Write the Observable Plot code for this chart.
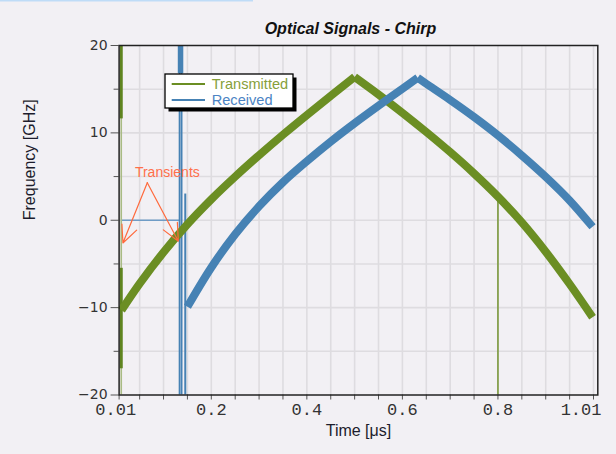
<!DOCTYPE html>
<html><head><meta charset="utf-8">
<script src="https://cdn.jsdelivr.net/npm/d3@7"></script>
<script src="https://cdn.jsdelivr.net/npm/@observablehq/plot@0.6"></script>
<style>
html,body{margin:0;padding:0;background:#f2f0f4;}
#chart{position:relative;width:616px;height:454px;overflow:hidden;}
g[aria-label="xticklabels"] text{letter-spacing:0.6px;}
g[aria-label="yticklabels"] text{letter-spacing:1.2px;}
</style></head><body><div id="chart"></div>
<script>
const title = "Optical Signals - Chirp";
const xLabel = "Time [μs]";
const yLabel = "Frequency [GHz]";
const seriesNames = ["Transmitted", "Received"];
const seriesColors = ["#6b8e23", "#4682b4"];
const legendTextColors = ["#86a03a", "#4c84c4"];

// Transmitted chirp (time µs, frequency GHz)
const txTime = [0.012,0.05,0.1,0.15,0.2,0.25,0.3,0.35,0.4,0.45,0.5,0.55,0.6,0.65,0.7,0.75,0.8,0.85,0.9,0.95,0.998];
const txFreq = [-10.3,-7.26,-3.66,-0.46,2.39,4.99,7.44,9.79,12.04,14.24,16.4,14.4,12.3,10.1,7.8,5.35,2.7,-0.25,-3.6,-7.3,-11.1];
const txPeak = 0.5;
// Received chirp
const rxTime = [0.15,0.2,0.25,0.3,0.35,0.4,0.45,0.5,0.55,0.6,0.632,0.65,0.7,0.75,0.8,0.85,0.9,0.95,0.998];
const rxFreq = [-9.9,-5.4,-1.6,1.6,4.35,6.75,9.0,11.1,13.1,15.05,16.3,15.62,13.77,11.82,9.72,7.42,4.97,2.27,-0.75];
const rxPeak = 0.632;

// Transients (vertical spikes: time, from, to)
const txSpikeThinT = [0.0115], txSpikeThinF1 = [-20], txSpikeThinF2 = [20];
const txSpikeThickT = [0.0115, 0.0115], txSpikeThickF1 = [11.6, -17], txSpikeThickF2 = [20, -5.5];
const txSpikeLateT = [0.8], txSpikeLateF1 = [-20], txSpikeLateF2 = [2.6];
const rxSpikeThinT = [0.1336, 0.1378], rxSpikeThinF1 = [-20, -20], rxSpikeThinF2 = [20, 20];
const rxSpikeThickT = [0.1356], rxSpikeThickF1 = [16.8], rxSpikeThickF2 = [20];
const rxSpikeLateT = [0.1455], rxSpikeLateF1 = [-20], rxSpikeLateF2 = [3.0];
const rxFlatT1 = [0.0115], rxFlatT2 = [0.134], rxFlatF = [0];

// Annotation
const noteText = ["Transients"];
const noteT = [0.108], noteF = [5.5];
const arrowT1 = [0.066, 0.066], arrowF1 = [4.3, 4.3];
const arrowT2 = [0.015, 0.131], arrowF2 = [-2.6, -2.4];

// Axes
const xDomain = [0.007, 1.009];
const yDomain = [-20, 20];
const xGrid = [0.05,0.1,0.15,0.2,0.25,0.3,0.35,0.4,0.45,0.5,0.55,0.6,0.65,0.7,0.75,0.8,0.85,0.9,0.95,1.0];
const yGridLines = [-15,-10,-5,0,5,10,15];
const yMajor = [-20,-10,0,10,20];
const yMinor = [-15,-5,5,15];
const xTickLabelPos = [0.0, 0.2, 0.4, 0.6, 0.8, 0.974];
const xTickLabels = ["0.01", "0.2", "0.4", "0.6", "0.8", "1.01"];
const yTickLabels = ["\u221220", "\u221210", "0", "10", "20"];

function series(time, freq, peak, name) {
  const rows = [];
  time.forEach((t, i) => { if (t <= peak) rows.push({t, f: freq[i], s: name + "-up"}); });
  time.forEach((t, i) => { if (t >= peak) rows.push({t, f: freq[i], s: name + "-down"}); });
  return rows;
}
const tx = series(txTime, txFreq, txPeak, "tx");
const rx = series(rxTime, rxFreq, rxPeak, "rx");
const seg = (T, F1, F2) => T.map((t, i) => ({t, f1: F1[i], f2: F2[i]}));
const arrows = arrowT1.map((t, i) => ({x1: t, y1: arrowF1[i], x2: arrowT2[i], y2: arrowF2[i]}));

const svgNode = Plot.plot({
  width: 616, height: 454,
  marginLeft: 118.6, marginRight: 18.7, marginTop: 45, marginBottom: 59.5,
  x: {domain: xDomain},
  y: {domain: yDomain},
  style: {background: "#f2f0f4", fontFamily: "'Liberation Sans', Arial, sans-serif", overflow: "visible", color: "#222"},
  marks: [
    Plot.ruleX(xGrid, {stroke: "#dedce0", strokeWidth: 1.6}),
    Plot.ruleY(yGridLines, {stroke: "#dedce0", strokeWidth: 1.6}),
    Plot.axisX({ticks: [xDomain[0], ...xGrid], tickSize: 5, tickFormat: () => "", label: null, stroke: "#555"}),
    Plot.axisY({ticks: yMajor, tickSize: 8, tickFormat: () => "", label: null, stroke: "#555"}),
    Plot.axisY({ticks: yMinor, tickSize: 5, tickFormat: () => "", label: null, stroke: "#555"}),
    // transients
    Plot.ruleY(rxFlatF, {x1: () => rxFlatT1[0], x2: () => rxFlatT2[0], stroke: "#6f9cc6", strokeWidth: 1.6}),
    Plot.ruleX(seg(txSpikeThinT, txSpikeThinF1, txSpikeThinF2), {x: "t", y1: "f1", y2: "f2", stroke: "#a9bb84", strokeWidth: 1.6}),
    Plot.ruleX(seg(txSpikeThickT, txSpikeThickF1, txSpikeThickF2), {x: "t", y1: "f1", y2: "f2", stroke: "#5f8420", strokeWidth: 3}),
    Plot.ruleX(seg(txSpikeLateT, txSpikeLateF1, txSpikeLateF2), {x: "t", y1: "f1", y2: "f2", stroke: "#6b8e23", strokeWidth: 1.4}),
    Plot.ruleX(seg(rxSpikeThinT, rxSpikeThinF1, rxSpikeThinF2), {x: "t", y1: "f1", y2: "f2", stroke: "#4682b4", strokeWidth: 1.8}),
    Plot.ruleX(seg(rxSpikeThickT, rxSpikeThickF1, rxSpikeThickF2), {x: "t", y1: "f1", y2: "f2", stroke: "#4682b4", strokeWidth: 5.5}),
    Plot.ruleX(seg(rxSpikeLateT, rxSpikeLateF1, rxSpikeLateF2), {x: "t", y1: "f1", y2: "f2", stroke: "#4682b4", strokeWidth: 2}),
    // chirps
    Plot.line(tx, {x: "t", y: "f", z: "s", stroke: seriesColors[0], strokeWidth: 8, curve: "catmull-rom", strokeLinejoin: "miter", strokeLinecap: "butt"}),
    Plot.line(rx, {x: "t", y: "f", z: "s", stroke: seriesColors[1], strokeWidth: 8, curve: "catmull-rom", strokeLinejoin: "miter", strokeLinecap: "butt"}),
    // annotation
    Plot.arrow(arrows, {x1: "x1", y1: "y1", x2: "x2", y2: "y2", stroke: "#ff6a3d", strokeWidth: 1.2, headLength: 23.5, headAngle: 50}),
    Plot.text(noteText, {x: () => noteT[0], y: () => noteF[0], text: d => d, fill: "#ff6f4a", fontSize: 14}),
    Plot.frame({stroke: "#222", strokeWidth: 1.5}),
    // tick labels
    Plot.text(xTickLabels, {x: (d, i) => xTickLabelPos[i], text: d => d, frameAnchor: "bottom", dy: 19.7, fontFamily: "'Liberation Mono', monospace", fontSize: 17, fill: "#333", ariaLabel: "xticklabels"}),
    Plot.text(yTickLabels, {y: (d, i) => yMajor[i], text: d => d, frameAnchor: "left", dx: -11.5, textAnchor: "end", fontFamily: "'DejaVu Sans', sans-serif", fontSize: 14, fill: "#333", ariaLabel: "yticklabels"}),
    // axis labels and title
    Plot.text([xLabel], {frameAnchor: "bottom", text: d => d, dy: 41.2, fontSize: 16, fill: "#1c1c2c"}),
    Plot.text([yLabel], {frameAnchor: "left", text: d => d, dx: -89.2, rotate: -90, fontSize: 16, fill: "#1c1c2c"}),
    Plot.text([title], {frameAnchor: "top", text: d => d, dx: -8, dy: -22.6, fontSize: 16, fontWeight: "bold", fontStyle: "italic", fill: "#111"})
  ]
});

const svg = d3.select(svgNode);
// legend
const lg = svg.append("g").attr("aria-label", "legend").attr("text-anchor", "start");
lg.append("rect").attr("x", 168.5).attr("y", 77.5).attr("width", 128).attr("height", 34).attr("fill", "#000");
lg.append("rect").attr("x", 165).attr("y", 74).attr("width", 128).attr("height", 34).attr("fill", "#fff").attr("stroke", "#000").attr("stroke-width", 1.3);
seriesNames.forEach((name, i) => {
  const y = 84 + 16 * i;
  lg.append("line").attr("x1", 171.7).attr("x2", 205).attr("y1", y).attr("y2", y).attr("stroke", seriesColors[i]).attr("stroke-width", 2);
  lg.append("text").attr("x", 211.7).attr("y", y + 4.9).attr("text-anchor", "start").attr("font-size", 14.6).attr("font-family", "'Liberation Sans', Arial, sans-serif").attr("fill", legendTextColors[i]).text(name);
});
// window chrome strip
svg.append("rect").attr("x", 0).attr("y", 0).attr("width", 253).attr("height", 1.5).attr("fill", "#bfdcf7");

document.getElementById("chart").appendChild(svgNode);
</script></body></html>
